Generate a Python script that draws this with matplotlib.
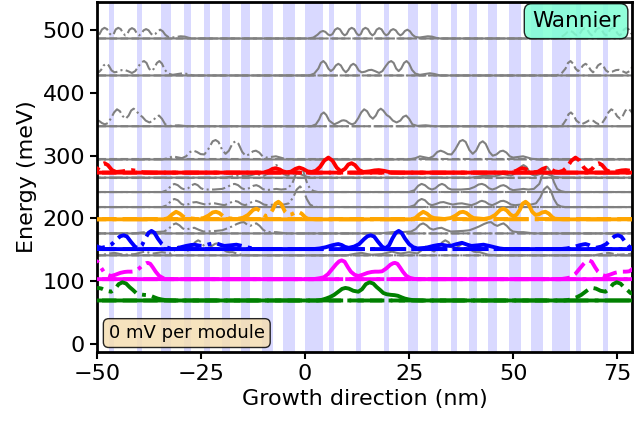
import matplotlib.pyplot as plt
import numpy as np

# module length (nm) and barrier layers of one module (start, end in nm)
period = 59.4
barrier_start = [0.0, 5.7, 12.2, 18.9, 24.7, 30.3, 35.1, 39.5, 44.0, 49.1, 54.2]
barrier_end = [4.2, 6.9, 13.4, 20.1, 27.1, 32.0, 36.6, 41.4, 46.2, 51.8, 57.1]

# level energies (meV) and colours
energies = [487, 428, 347, 294, 273, 265, 242, 218, 198.5, 176, 151, 141, 103, 69]
colors = ['gray', 'gray', 'gray', 'gray', 'red', 'gray', 'gray', 'gray',
          'orange', 'gray', 'blue', 'gray', 'magenta', 'green']

# |psi|^2 for the central module: positions (nm) and heights (meV)
psi_x = [
    [0.8, 2.0, 3.0, 3.7, 4.3, 4.9, 5.5, 6.0, 6.6, 7.2, 7.8, 8.4, 9.0, 9.5, 10.0, 10.6, 11.2, 11.8, 12.4, 12.9,
     13.4, 13.9, 14.5, 15.1, 15.7, 16.2, 16.7, 17.2, 17.8, 18.4, 19.0, 19.5, 20.0, 20.6, 21.2, 21.8, 22.4, 22.9,
     23.4, 24.0, 24.6, 25.2, 25.8, 26.5, 27.5, 28.5, 29.5, 30.5, 31.5, 32.5],
    [1.0, 2.2, 3.2, 3.8, 4.4, 5.0, 5.6, 6.2, 6.8, 7.4, 8.0, 8.6, 9.2, 9.8, 10.4, 11.0, 11.6, 12.2, 12.9, 13.6,
     14.4, 15.3, 16.0, 16.8, 17.8, 18.6, 19.4, 20.1, 20.7, 21.3, 21.9, 22.5, 23.1, 23.8, 24.4, 25.0, 25.7, 26.5,
     27.6, 29.0, 30.0, 31.0, 32.5],
    [1.5, 2.6, 3.4, 3.9, 4.5, 5.1, 5.8, 7.0, 8.0, 8.8, 9.3, 9.9, 10.6, 11.3, 12.0, 12.8, 13.5, 14.2, 14.9, 15.6,
     16.3, 17.0, 17.6, 18.2, 18.8, 19.6, 20.3, 21.1, 22.0, 22.9, 23.6, 24.3, 25.0, 25.8, 27.0, 28.2, 29.0, 30.0,
     31.0],
    [25.0, 26.5, 27.6, 28.7, 29.8, 30.8, 31.8, 32.6, 33.4, 34.3, 35.2, 36.1, 37.2, 37.9, 38.6, 39.5, 40.3, 41.1,
     42.0, 42.7, 43.4, 44.3, 45.1, 46.0, 46.9, 47.6, 48.4, 49.2, 50.0, 51.2, 52.4, 53.5, 54.5, 56.5],
    [-10.0, -8.6, -7.8, -7.1, -6.3, -5.3, -4.4, -3.4, -2.3, -1.4, -0.5, 0.6, 1.6, 2.6, 3.6, 4.6, 5.6, 6.6, 7.6,
     8.6, 9.6, 10.4, 11.2, 12.0, 13.0, 14.0, 15.5, 16.7, 17.7, 18.8, 20.5, 23.0],
    [40.0, 43.0, 45.5, 47.5, 49.5, 50.8, 51.8, 52.5, 53.2, 54.2, 55.2, 56.5, 57.5, 58.5, 60.0, 62.0],
    [25.0, 26.3, 27.2, 28.0, 28.8, 29.7, 30.5, 31.3, 32.2, 32.9, 33.6, 34.4, 35.2, 37.5, 39.5, 40.7, 41.7, 42.5,
     43.3, 44.2, 45.0, 45.9, 47.0, 47.7, 48.4, 49.2, 50.0, 51.3, 52.5, 53.7, 55.0, 56.3, 57.4, 58.2, 59.0, 59.8,
     60.6, 61.5, 62.5],
    [25.0, 26.3, 27.2, 28.0, 28.8, 29.7, 30.5, 31.5, 32.5, 33.3, 34.3, 35.5, 36.7, 37.7, 38.8, 40.0, 41.2, 42.0,
     42.5, 43.3, 44.2, 45.0, 46.0, 47.0, 47.7, 48.5, 49.5, 50.5, 51.8, 53.0, 54.3, 55.5, 56.5, 57.4, 58.2, 59.0,
     59.8, 60.6, 61.5, 62.5],
    [25.5, 26.5, 27.5, 28.4, 29.3, 30.2, 31.0, 33.5, 35.0, 36.2, 37.2, 38.0, 38.8, 39.7, 40.5, 43.0, 44.5, 45.7,
     46.9, 47.7, 48.5, 49.3, 50.0, 50.8, 51.6, 52.3, 53.0, 53.7, 54.6, 55.4, 56.2, 57.0, 57.8, 58.6, 59.4, 60.0,
     62.0],
    [18.0, 21.0, 23.0, 25.5, 26.6, 27.6, 28.4, 29.2, 30.0, 30.8, 31.8, 32.8, 33.8, 35.0, 36.5, 38.0, 39.5, 40.7,
     41.8, 43.0, 44.0, 44.7, 45.5, 46.2, 47.0, 47.7, 48.5, 49.3, 50.0, 51.2, 52.5, 53.8, 55.0],
    [2.0, 3.5, 5.0, 6.5, 7.5, 8.0, 8.8, 9.6, 10.5, 11.8, 13.0, 14.2, 15.0, 15.8, 16.6, 17.5, 18.5, 19.3, 20.2,
     21.0, 21.8, 22.5, 23.2, 24.0, 25.0, 26.0, 27.0, 29.0, 30.8, 32.0, 32.8, 34.0, 35.0, 36.2, 37.7, 39.0, 40.0,
     41.5, 42.9, 44.3, 45.5, 46.8, 48.0],
    [10.0, 12.0, 13.6, 15.0, 16.0, 18.5, 20.0, 20.9, 22.0, 23.0, 25.0, 27.0, 28.0, 29.0, 30.0, 31.0, 32.2, 33.0,
     33.7, 34.5, 35.3, 36.0, 37.0, 37.8, 38.4, 39.1, 39.8, 40.5, 41.2, 42.0, 43.0, 44.0, 46.0],
    [2.0, 3.5, 4.5, 5.5, 6.5, 7.5, 8.2, 8.8, 9.5, 10.3, 11.0, 11.9, 12.8, 13.8, 15.0, 16.0, 16.8, 17.7, 18.5,
     19.5, 20.5, 21.2, 21.6, 22.2, 22.8, 23.5, 24.3, 25.2, 26.2, 27.0],
    [3.0, 4.0, 5.0, 6.0, 7.0, 8.0, 8.9, 9.7, 10.5, 11.6, 12.8, 13.7, 14.6, 15.5, 16.4, 17.2, 18.0, 18.8, 19.6,
     20.6, 21.5, 22.3, 23.2, 24.0, 25.0, 26.0, 28.0],
]
psi_amp = [
    [0, 1.5, 6, 10.5, 12, 10.5, 6.5, 5, 7, 14, 16.5, 14.5, 8, 5, 7, 14.5, 17, 15, 8, 5,
     7, 14.5, 17, 15, 8, 5, 7.5, 14, 16.5, 14.5, 8, 5, 7, 13, 15, 13, 7.5, 5,
     7, 12, 14, 11.5, 6, 2.5, 1.5, 2.5, 3.5, 3, 1, 0],
    [0, 3, 11, 20, 23, 19, 11, 7, 10, 16, 18.6, 16, 9, 5, 9, 16, 18.6, 16, 8, 5,
     6, 8.5, 9, 7, 4, 7, 15, 21, 23, 20, 11, 7, 11, 20, 23, 19, 9, 3,
     1, 2.5, 3.5, 2.5, 0],
    [0, 3, 11, 19, 22, 18, 9, 3, 6, 9, 9.5, 8.5, 5, 3, 5, 13, 22, 27, 24, 16,
     12, 17, 25, 28, 25, 18, 15, 9, 6, 9, 15, 17, 12, 3, 0.5, 1.2, 1.5, 0.8,
     0],
    [0, 2, 5, 3.5, 2, 5, 12, 14, 12, 8.5, 8, 16, 29, 31, 28, 15, 9, 14,
     26, 29, 25, 12, 6, 8, 13, 14, 11, 5, 3, 4, 5, 3, 1, 0],
    [0, 3, 6, 7, 5.5, 2, 0.5, 1.5, 6, 8, 6, 2, 1, 3, 9, 19, 24, 19, 8,
     2, 6, 13, 15, 12, 4, 1, 2, 3.5, 4, 3, 0.5, 0],
    [0, 3, 2, 6, 3, 8, 17, 20, 17, 6, 3, 6, 8, 5, 1, 0],
    [0, 3, 10, 13, 11, 6, 4, 6, 11, 13, 11, 6, 4, 4, 5, 8, 12, 13,
     11, 6, 4, 6, 10, 11, 9, 5, 3, 4, 5, 4, 5, 13, 33, 40, 33, 16,
     5, 1.5, 0],
    [0, 3, 10, 13, 11, 5, 3, 5, 7.5, 8, 6, 4, 5.5, 6, 4.5, 3, 6, 9,
     10, 8.5, 4.5, 3, 6, 9.5, 10, 8, 4, 3, 4, 5, 4, 6, 15, 28, 33, 27,
     13, 4, 1, 0],
    [0, 2, 8, 12, 9, 4, 2, 0.5, 2, 6, 11, 12, 10, 5, 2, 0.5, 2.5, 7,
     15, 17, 14, 8, 5, 7, 15, 25, 28, 24, 12, 7, 8, 11, 12, 9, 3.5, 1,
     0],
    [0, 2, 2, 3, 7, 14, 16, 13, 8, 6, 8, 9, 6, 3, 3.5, 4, 5, 8,
     11, 15, 17.5, 18, 14, 12, 14.5, 16, 12, 6, 3, 2, 2, 1, 0],
    [0, 1, 3, 6, 7.5, 8, 6.5, 3.5, 2, 4, 8, 16, 20.5, 22, 20, 12, 4, 1, 6,
     17, 26, 29, 26, 17, 8, 3, 1, 2, 5, 6.5, 7, 5.5, 5, 7.5, 10, 7, 5,
     6, 7, 5, 3, 1, 0],
    [0, 2.5, 4, 2, 1, 2, 4.5, 6, 4, 3, 5, 3, 8, 14, 10, 6, 14, 21,
     24, 21, 13, 10, 15, 18.5, 19, 15.5, 9, 6, 5, 5, 3, 1, 0],
    [0, 1.5, 3, 8, 16, 24, 28.5, 30, 28, 19, 12, 7, 5, 7, 10, 11.5, 12, 12, 12.5,
     17, 23, 25.5, 26, 24.5, 19, 12, 5.5, 2, 0.5, 0],
    [0, 1, 3, 5.5, 9, 14, 18.5, 20, 19, 15.5, 14, 18, 26, 29, 27, 21.5, 17, 12, 10,
     9, 8.5, 7.5, 5, 3, 1.5, 0.5, 0],
]

fig = plt.figure(figsize=(6.34, 4.26), dpi=100)
ax = fig.add_axes([0.153, 0.174, 0.844, 0.821])

# barriers of neighbouring modules
for m in range(-2, 3):
    for b0, b1 in zip(barrier_start, barrier_end):
        ax.axvspan(b0 + m * period, b1 + m * period, color=(0.85, 0.85, 1.0), lw=0, zorder=0)

# each state drawn for previous (-.), current (-) and next (--) module
for E, c, xs, amp in zip(energies, colors, psi_x, psi_amp):
    lw = 1.5 if c == 'gray' else 2.8
    z = 2 if c == 'gray' else 3
    for k, ls in [(-1, '-.'), (0, '-'), (1, '--')]:
        x = np.concatenate([[-80], np.array(xs) + k * period, [120]])
        y = E + np.concatenate([[0], amp, [0]])
        ax.plot(x, y, color=c, lw=lw, ls=ls, zorder=z)

ax.set_xlim(-50, 78.6)
ax.set_ylim(-13, 545)
ax.set_xticks([-50, -25, 0, 25, 50, 75])
ax.set_yticks([0, 100, 200, 300, 400, 500])
ax.tick_params(labelsize=16, width=1.5, length=5)
for s in ax.spines.values():
    s.set_linewidth(2)
ax.set_xlabel('Growth direction (nm)', fontsize=16)
ax.set_ylabel('Energy (meV)', fontsize=16)

ax.text(0.978, 0.974, 'Wannier', transform=ax.transAxes, ha='right', va='top', fontsize=15.5, zorder=10,
        bbox=dict(boxstyle='round,pad=0.35', facecolor='aquamarine', edgecolor='black', alpha=0.85))
ax.text(0.022, 0.028, '0 mV per module', transform=ax.transAxes, ha='left', va='bottom', fontsize=13, zorder=10,
        bbox=dict(boxstyle='round,pad=0.3', facecolor='wheat', edgecolor='black', alpha=0.85))

fig.savefig('out.png', dpi=100)
